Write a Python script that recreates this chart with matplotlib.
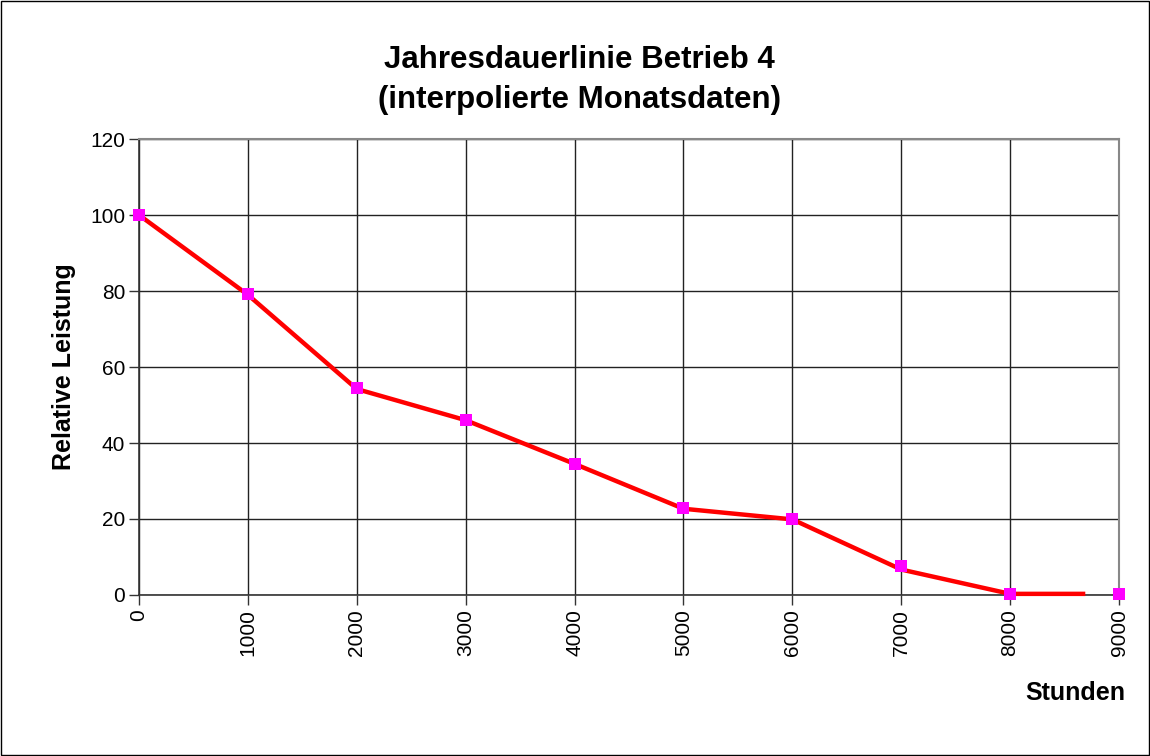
import matplotlib
matplotlib.use("Agg")
import matplotlib.pyplot as plt
from matplotlib.patches import Rectangle

plt.rcParams['font.family'] = ['Liberation Sans', 'DejaVu Sans']

# Interpolated load-duration curve (hours vs. relative power)
line_hours = [0, 1000, 2000, 3000, 4000, 5000, 6000, 7000, 8000, 8670]
line_power = [100, 79.0, 54.2, 46.0, 34.5, 22.7, 19.9, 6.7, 0.3, 0.3]

# Monthly data points
point_hours = [0, 1000, 2000, 3000, 4000, 5000, 6000, 7000, 8000, 9000]
point_power = [100, 79.2, 54.6, 46.0, 34.6, 23.0, 20.0, 7.7, 0.3, 0.3]

x_ticks = [0, 1000, 2000, 3000, 4000, 5000, 6000, 7000, 8000, 9000]
y_ticks = [0, 20, 40, 60, 80, 100, 120]

title_lines = ["Jahresdauerlinie Betrieb 4", "(interpolierte Monatsdaten)"]
x_label = "Stunden"
y_label = "Relative Leistung"

fig = plt.figure(figsize=(11.5, 7.56), dpi=100)
fig.patch.set_facecolor("white")
fig.patches.append(Rectangle((0.0005, 0.0007), 0.9985, 0.9982, transform=fig.transFigure,
                             fill=False, edgecolor="black", linewidth=1.0))

ax = fig.add_axes([139 / 1150, 1 - 595 / 756, 980 / 1150, 456 / 756])
ax.set_xlim(0, 9000)
ax.set_ylim(0, 120)
ax.set_xticks(x_ticks)
ax.set_yticks(y_ticks)
ax.set_xticklabels([str(t) for t in x_ticks], rotation=90, fontsize=15)
ax.set_yticklabels([str(t) for t in y_ticks], fontsize=15)
ax.tick_params(axis="both", direction="out", length=7, width=1.0, color="#333333", pad=3)
ax.grid(True, color="#222222", linewidth=1.0)
ax.set_axisbelow(True)

for side in ("top", "right"):
    ax.spines[side].set_color("#888888")
    ax.spines[side].set_linewidth(1.5)
for side in ("left", "bottom"):
    ax.spines[side].set_color("#333333")
    ax.spines[side].set_linewidth(1.2)

ax.plot(line_hours, line_power, color="#ff0000", linewidth=3.2, zorder=3, clip_on=False)
ax.plot(point_hours, point_power, linestyle="none", marker="s", markersize=8,
        markerfacecolor="#ff00ff", markeredgecolor="#ff00ff", markeredgewidth=0,
        zorder=4, clip_on=False)

ax.set_ylabel(y_label, fontsize=18, fontweight="bold")
ax.yaxis.set_label_coords(-63 / 980, 0.5)

fig.text(1075 / 1150, 1 - 693 / 756, x_label, fontsize=18, fontweight="bold",
         ha="center", va="center")

fig.text(579 / 1150, 1 - 60 / 756, title_lines[0], fontsize=22.5, fontweight="bold",
         ha="center", va="center")
fig.text(579 / 1150, 1 - 100 / 756, title_lines[1], fontsize=22.5, fontweight="bold",
         ha="center", va="center")

fig.savefig("out.png", dpi=100, facecolor="white")
